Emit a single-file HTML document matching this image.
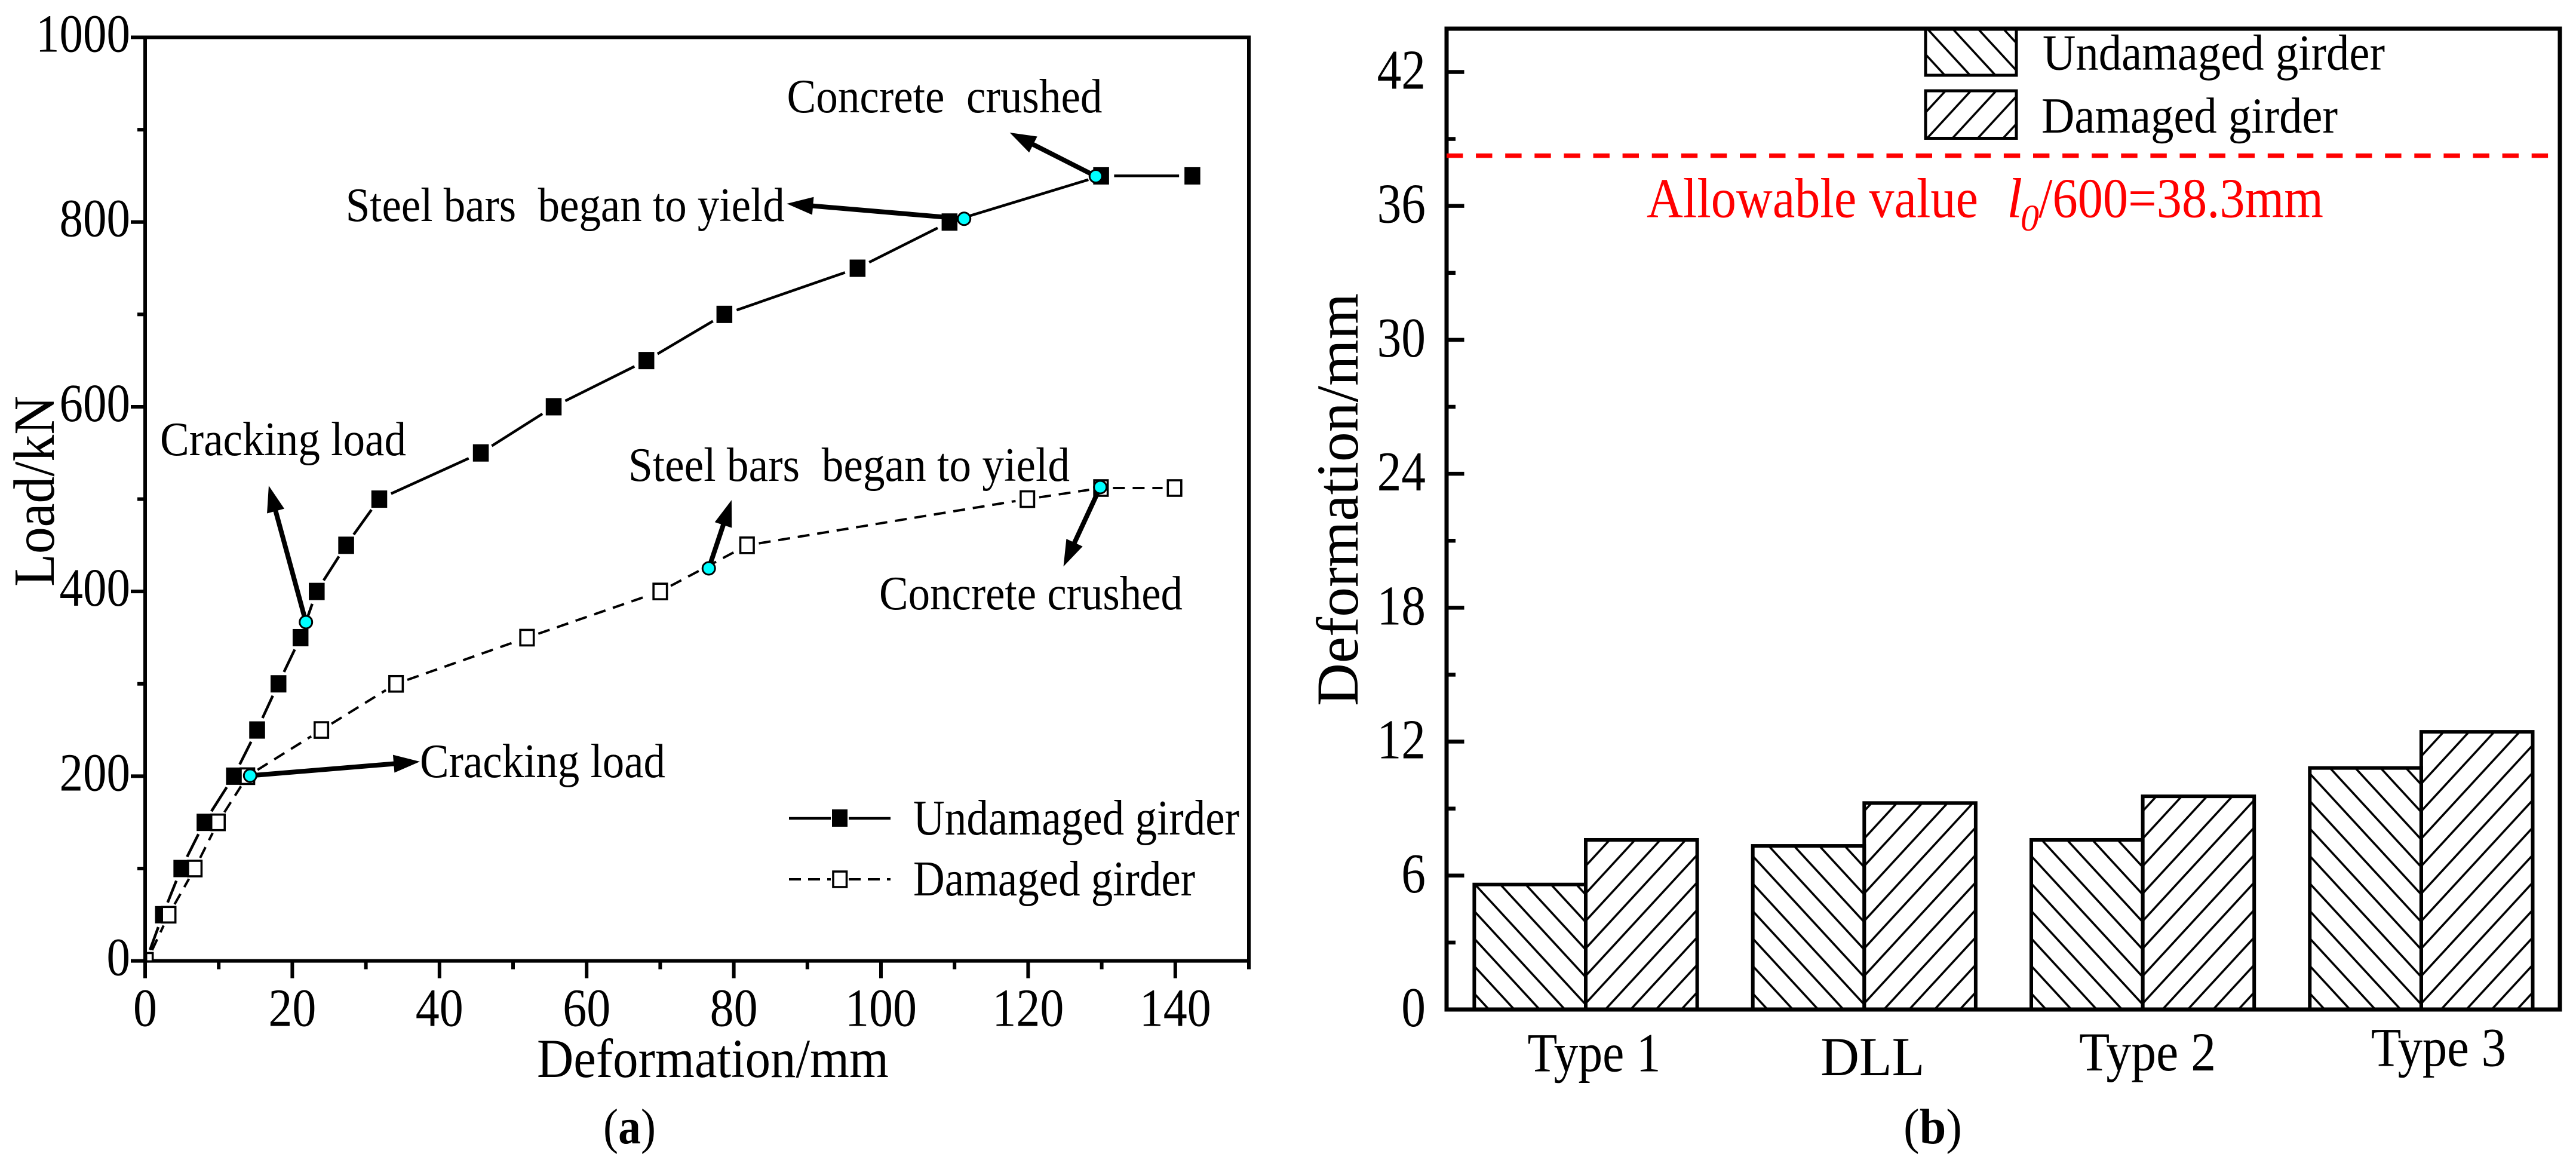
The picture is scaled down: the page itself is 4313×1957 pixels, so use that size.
<!DOCTYPE html>
<html lang="en">
<head>
<meta charset="utf-8">
<title>Load-deformation curves and deformation comparison</title>
<style>
html,body{margin:0;padding:0;background:#fff;}
svg{display:block;}
text{font-family:"Liberation Serif",serif;fill:#000;white-space:pre;}
.red{fill:#ff0000;}
</style>
</head>
<body>
<svg id="figure" xmlns="http://www.w3.org/2000/svg" width="4313" height="1957" viewBox="0 0 4313 1957">
<rect x="0" y="0" width="4313" height="1957" fill="#fff"/>
<defs>
<pattern id="hatch-back" patternUnits="userSpaceOnUse" x="2493" y="1690" width="42.4" height="46">
<path d="M-4.24 -4.6L46.64 50.6M-46.64 -4.6L4.24 50.6M38.16 -4.6L89 50.6" stroke="#000" stroke-width="3.6" fill="none"/>
</pattern>
<pattern id="hatch-forward" patternUnits="userSpaceOnUse" x="2815" y="1690" width="42.4" height="46">
<path d="M-4.24 50.6L46.64 -4.6M-46.64 50.6L4.24 -4.6M38.16 50.6L89 -4.6" stroke="#000" stroke-width="3.6" fill="none"/>
</pattern>
</defs>

<g id="panel-a">
<g id="a-axes"></g>
<g id="a-series"></g>
<g id="a-annotations"></g>
<text x="899" y="1803" font-size="92" textLength="589" lengthAdjust="spacingAndGlyphs">Deformation/mm</text>
<text transform="translate(90,982) rotate(-90)" font-size="98" textLength="319" lengthAdjust="spacingAndGlyphs">Load/kN</text>
<text x="1317.5" y="188" font-size="80" textLength="528" lengthAdjust="spacingAndGlyphs">Concrete  crushed</text>
<text x="578.7" y="370" font-size="80" textLength="735" lengthAdjust="spacingAndGlyphs">Steel bars  began to yield</text>
<text x="268" y="762" font-size="80" textLength="412" lengthAdjust="spacingAndGlyphs">Cracking load</text>
<text x="1052" y="805" font-size="80" textLength="739" lengthAdjust="spacingAndGlyphs">Steel bars  began to yield</text>
<text x="1472" y="1020" font-size="80" textLength="508" lengthAdjust="spacingAndGlyphs">Concrete crushed</text>
<text x="703" y="1301" font-size="80" textLength="411" lengthAdjust="spacingAndGlyphs">Cracking load</text>
<g>
<line x1="1321" y1="1370" x2="1391" y2="1370" stroke="#000" stroke-width="4.5"/>
<line x1="1421" y1="1370" x2="1491" y2="1370" stroke="#000" stroke-width="4.5"/>
<rect x="1393" y="1355" width="26" height="29" fill="#000"/>
<text x="1529" y="1397" font-size="84" textLength="546" lengthAdjust="spacingAndGlyphs">Undamaged girder</text>
<line x1="1321" y1="1472" x2="1391" y2="1472" stroke="#000" stroke-width="4" stroke-dasharray="20 12"/>
<line x1="1421" y1="1472" x2="1491" y2="1472" stroke="#000" stroke-width="4" stroke-dasharray="20 12"/>
<rect x="1395" y="1459" width="22.5" height="26" fill="#fff" stroke="#000" stroke-width="3.6"/>
<text x="1529" y="1499" font-size="84" textLength="472" lengthAdjust="spacingAndGlyphs">Damaged girder</text>
</g>
<text x="1010" y="1914" font-size="84" textLength="88" lengthAdjust="spacingAndGlyphs">(<tspan font-weight="bold">a</tspan>)</text>
</g>

<g id="panel-b">
<g id="b-bars"></g>
<g id="b-axes"></g>
<text transform="translate(2272.8,1182) rotate(-90)" font-size="100" textLength="691" lengthAdjust="spacingAndGlyphs">Deformation/mm</text>
<g>
<rect x="3224" y="48" width="152" height="78" fill="url(#hatch-back)" stroke="#000" stroke-width="5"/>
<text x="3420" y="116.7" font-size="85" textLength="573" lengthAdjust="spacingAndGlyphs">Undamaged girder</text>
<rect x="3224" y="152" width="152" height="79.5" fill="url(#hatch-forward)" stroke="#000" stroke-width="5"/>
<text x="3418" y="222" font-size="85" textLength="496" lengthAdjust="spacingAndGlyphs">Damaged girder</text>
</g>
<text class="red" x="2757" y="363.5" font-size="94" textLength="555" lengthAdjust="spacingAndGlyphs">Allowable value</text>
<text class="red" x="3360" y="363.5" font-size="94" font-style="italic">l</text>
<text class="red" x="3383" y="386" font-size="62" font-style="italic">0</text>
<text class="red" x="3413" y="363.5" font-size="94" textLength="477" lengthAdjust="spacingAndGlyphs">/600=38.3mm</text>
<text x="3187" y="1914" font-size="84" textLength="98" lengthAdjust="spacingAndGlyphs">(<tspan font-weight="bold">b</tspan>)</text>
</g>
</svg>

<script>
// Panel (a): load-deformation curves
const undamagedDeformation = [0.3, 2.4, 4.9, 8.05, 12.05, 15.2, 18.1, 21.1, 23.3, 27.3, 31.8, 45.6, 55.5, 68.1, 78.7, 96.8, 109.3, 129.9, 142.3];
const undamagedLoad = [4, 50, 100, 150, 200, 250, 300, 350, 400, 450, 500, 550, 600, 650, 700, 750, 800, 850, 850];
const damagedDeformation = [0.5, 3.2, 6.75, 9.9, 13.9, 23.95, 34.1, 51.9, 70, 81.8, 119.9, 129.9, 139.9];
const damagedLoad = [4, 50, 100, 150, 200, 250, 300, 350, 400, 450, 500, 512, 512];
const keyPointNames = ['cracking-undamaged', 'cracking-damaged', 'yield-undamaged', 'crushed-undamaged', 'yield-damaged', 'crushed-damaged'];
const keyPointDeformation = [21.85, 14.27, 111.3, 129.2, 76.6, 129.8];
const keyPointLoad = [366.8, 200.6, 803.5, 849.6, 425, 513];
const arrowTipDeformation = [16.8, 37.34, 87.2, 117.5, 79.7, 124.8];
const arrowTipLoad = [514.5, 215.8, 819.9, 896.8, 499, 427];
const aXMajorTicks = [0, 20, 40, 60, 80, 100, 120, 140];
const aXMinorTicks = [10, 30, 50, 70, 90, 110, 130, 150];
const aYMajorTicks = [0, 200, 400, 600, 800, 1000];
const aYMinorTicks = [100, 300, 500, 700, 900];

// Panel (b): deformation bars
const categories = ['Type 1', 'DLL', 'Type 2', 'Type 3'];
const undamagedBars = [5.6, 7.33, 7.6, 10.82];
const damagedBars = [7.6, 9.25, 9.55, 12.44];
const allowableValue = [38.25];
const bYMajorTicks = [0, 6, 12, 18, 24, 30, 36, 42];
const bYMinorTicks = [3, 9, 15, 21, 27, 33, 39];

// Label placement nudges for the category labels (layout only)
const categoryNudgeX = [14, 14, 8, 29];
const categoryBaseline = [1793.6, 1800, 1792, 1784.5];
const categoryWidth = [223, 174, 229, 226];

const NS = 'http://www.w3.org/2000/svg';
function make(tag, attrs, parent) {
  const n = document.createElementNS(NS, tag);
  for (const k in attrs) n.setAttribute(k, attrs[k]);
  parent.appendChild(n);
  return n;
}

function ax(v) { return 243 + 12.32 * v; }
function ay(v) { return 1608.6 - 1.5461 * v; }
function by(v) { return 1690 - 37.37 * v; }
function groupCenter(i) { return 2655 + 466.3 * i; }
const barWidth = 186.6;

const aAxes = document.getElementById('a-axes');
const aSeries = document.getElementById('a-series');
const aNotes = document.getElementById('a-annotations');
const bAxes = document.getElementById('b-axes');
const bBars = document.getElementById('b-bars');

// ---- Panel (a) axes ----
const aFrame = make('rect', {x: ax(0), y: ay(1000), width: ax(150) - ax(0), height: ay(0) - ay(1000), fill: 'none', stroke: '#000', 'stroke-width': 6}, aAxes);



aXMajorTicks.forEach(function (v) {
  const t = make('line', {x1: ax(v), x2: ax(v), y1: ay(0), y2: ay(0) + 29, stroke: '#000', 'stroke-width': 6}, aAxes);
  
  
  const s = String(v);
  const w = s.length * 40;
  const l = make('text', {x: ax(v) - w / 2, y: 1717.3, 'font-size': 90, textLength: w, lengthAdjust: 'spacingAndGlyphs'}, aAxes);
  l.textContent = s;
  
  
});
aXMinorTicks.forEach(function (v) {
  const t = make('line', {x1: ax(v), x2: ax(v), y1: ay(0), y2: ay(0) + 14, stroke: '#000', 'stroke-width': 6}, aAxes);
  
  
});
aYMajorTicks.forEach(function (v) {
  const t = make('line', {x1: ax(0) - 24, x2: ax(0), y1: ay(v), y2: ay(v), stroke: '#000', 'stroke-width': 6}, aAxes);
  
  
  const s = String(v);
  const w = s.length * 39.5;
  const l = make('text', {x: 218 - w, y: ay(v) + 24, 'font-size': 90, textLength: w, lengthAdjust: 'spacingAndGlyphs'}, aAxes);
  l.textContent = s;
  
  
});
aYMinorTicks.forEach(function (v) {
  const t = make('line', {x1: ax(0) - 13, x2: ax(0), y1: ay(v), y2: ay(v), stroke: '#000', 'stroke-width': 6}, aAxes);
  
  
});

// ---- Panel (a) series ----
function drawSegments(xs, ys, group, trim, dash, width) {
  for (let i = 0; i < xs.length - 1; i++) {
    const x1 = ax(xs[i]), y1 = ay(ys[i]), x2 = ax(xs[i + 1]), y2 = ay(ys[i + 1]);
    const d = Math.hypot(x2 - x1, y2 - y1);
    if (d < 2 * trim + 4) continue;
    const ux = (x2 - x1) / d, uy = (y2 - y1) / d;
    const startTrim = i === 0 ? 13 : trim;
    const seg = make('line', {x1: x1 + ux * startTrim, y1: y1 + uy * startTrim, x2: x2 - ux * trim, y2: y2 - uy * trim, stroke: '#000', 'stroke-width': width}, aSeries);
    if (dash) seg.setAttribute('stroke-dasharray', dash);
    
    
  }
}
drawSegments(undamagedDeformation, undamagedLoad, 'undamaged-line', 22, null, 4.5);
drawSegments(damagedDeformation, damagedLoad, 'damaged-line', 20, '20 13', 4);

undamagedDeformation.forEach(function (v, i) {
  if (undamagedLoad[i] < 10) return;
  const m = make('rect', {x: ax(v) - 13, y: ay(undamagedLoad[i]) - 14.5, width: 26.5, height: 29, fill: '#000'}, aSeries);
  
  
});
damagedDeformation.forEach(function (v, i) {
  const small = damagedLoad[i] < 10;
  const w = small ? 11 : 22.5;
  const h = small ? 14 : 26;
  const m = make('rect', {x: ax(v) - w / 2 + (small ? 1 : 0), y: ay(damagedLoad[i]) - h / 2, width: w, height: h, fill: '#fff', stroke: '#000', 'stroke-width': 3.6}, aSeries);
  
  
});

// ---- Panel (a) arrows and key points ----
keyPointNames.forEach(function (name, i) {
  const x1 = ax(keyPointDeformation[i]), y1 = ay(keyPointLoad[i]);
  const x2 = ax(arrowTipDeformation[i]), y2 = ay(arrowTipLoad[i]);
  const d = Math.hypot(x2 - x1, y2 - y1);
  const ux = (x2 - x1) / d, uy = (y2 - y1) / d;
  const bx = x2 - ux * 44, bUy = y2 - uy * 44;
  const shaft = make('line', {x1: x1, y1: y1, x2: bx + ux * 6, y2: bUy + uy * 6, stroke: '#000', 'stroke-width': 8}, aNotes);
  
  
  const head = make('polygon', {points: x2 + ',' + y2 + ' ' + (bx - uy * 15) + ',' + (bUy + ux * 15) + ' ' + (bx + uy * 15) + ',' + (bUy - ux * 15), fill: '#000'}, aNotes);
  
  
});
keyPointNames.forEach(function (name, i) {
  const c = make('circle', {cx: ax(keyPointDeformation[i]), cy: ay(keyPointLoad[i]), r: 10.5, fill: '#00ffff', stroke: '#000', 'stroke-width': 3}, aNotes);
  
  
});

// ---- Panel (b) bars ----
categories.forEach(function (name, i) {
  const c = groupCenter(i);
  const u = make('rect', {x: c - barWidth, y: by(undamagedBars[i]), width: barWidth, height: by(0) - by(undamagedBars[i]), fill: 'url(#hatch-back)', stroke: '#000', 'stroke-width': 6}, bBars);
  
  
  const d = make('rect', {x: c, y: by(damagedBars[i]), width: barWidth, height: by(0) - by(damagedBars[i]), fill: 'url(#hatch-forward)', stroke: '#000', 'stroke-width': 6}, bBars);
  
  
  const w = categoryWidth[i];
  const l = make('text', {x: c + categoryNudgeX[i] - w / 2, y: categoryBaseline[i], 'font-size': 92, textLength: w, lengthAdjust: 'spacingAndGlyphs'}, bAxes);
  l.textContent = name;
  
  
});

// ---- Panel (b) axes ----
const bFrame = make('rect', {x: 2422, y: 48, width: 4286 - 2422, height: by(0) - 48, fill: 'none', stroke: '#000', 'stroke-width': 7}, bAxes);



bYMajorTicks.forEach(function (v) {
  const t = make('line', {x1: 2422, x2: 2451.5, y1: by(v), y2: by(v), stroke: '#000', 'stroke-width': 6.5}, bAxes);
  
  
  const s = String(v);
  const w = s.length * 40.7;
  const l = make('text', {x: 2387 - w, y: by(v) + 28, 'font-size': 94, textLength: w, lengthAdjust: 'spacingAndGlyphs'}, bAxes);
  l.textContent = s;
  
  
});
bYMinorTicks.forEach(function (v) {
  const t = make('line', {x1: 2422, x2: 2437, y1: by(v), y2: by(v), stroke: '#000', 'stroke-width': 6.5}, bAxes);
  
  
});

const limit = make('line', {x1: 2422, x2: 4272, y1: by(allowableValue[0]), y2: by(allowableValue[0]), stroke: '#ff0000', 'stroke-width': 7.5, 'stroke-dasharray': '27.4 21.7'}, bAxes);


</script>
</body>
</html>
